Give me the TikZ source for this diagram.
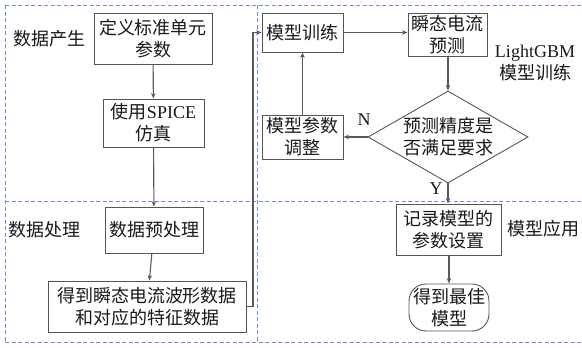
\documentclass[tikz,border=0pt]{standalone}
\usepackage{fontspec}
\setmainfont{Noto Sans CJK SC}
\newfontfamily\lat{Liberation Serif}
\usetikzlibrary{shapes.geometric,arrows.meta}
\definecolor{boxgray}{HTML}{555555}
\definecolor{linegray}{HTML}{5A5A5A}
\definecolor{dashblue}{HTML}{6F8FD2}
\begin{document}
\begin{tikzpicture}[x=1pt,y=-1pt,
  every node/.style={font=\fontsize{18}{22}\selectfont, text=black!90, align=center},
  box/.style={draw=boxgray, line width=0.9pt, inner sep=0pt},
  conn/.style={draw=linegray, line width=1.1pt, -{Stealth[length=5.5pt,width=4.5pt]}},
  region/.style={draw=dashblue, line width=0.9pt, dash pattern=on 4pt off 2.5pt},
  lbl/.style={inner sep=0pt}
]
\useasboundingbox (0,0) rectangle (582,348);
% region dashed lines
\draw[region] (5,5) -- (582,5);
\draw[region] (5,5) -- (5,342);
\draw[region] (5,342) -- (582,342);
\draw[region] (257,5) -- (257,342);
\draw[region] (5,201) -- (582,201);

% left column
\node[box, minimum width=118pt, minimum height=51pt] (def) at (153,38.5) {定义标准单元\\参数};
\node[box, minimum width=101pt, minimum height=48pt] (spice) at (153.5,123) {使用{\lat SPICE}\\仿真};
\node[box, minimum width=98pt, minimum height=46pt] (pre) at (154,230) {数据预处理};
\node[box, minimum width=198pt, minimum height=51pt] (wave) at (147,306.5) {得到瞬态电流波形数据\\和对应的特征数据};

% right column
\node[box, minimum width=81pt, minimum height=39pt] (train) at (302.5,32.5) {模型训练};
\node[box, minimum width=79pt, minimum height=43pt] (pred) at (447.5,34.5) {瞬态电流\\预测};
\node[box, minimum width=81pt, minimum height=44pt] (adj) at (302.5,137) {模型参数\\调整};
\node[diamond, draw=boxgray, line width=0.9pt, minimum width=160pt, minimum height=92pt, inner sep=0pt] (dia) at (448,137) {};
\node[lbl] (diatext) at (dia.center) {预测精度是\\否满足要求};
\node[box, minimum width=105pt, minimum height=51pt] (rec) at (448.5,229.5) {记录模型的\\参数设置};
\node[box, rounded corners=17pt, minimum width=80pt, minimum height=47pt] (best) at (449,307.5) {得到最佳\\模型};

% labels
\node[lbl] (l1) at (49,39) {数据产生};
\node[lbl] (l2) at (45,230) {数据处理};
\node[lbl] (l3) at (535,63) {{\lat LightGBM}\\模型训练};
\node[lbl] (l4) at (543,229) {模型应用};
\node[lbl] (ln) at (364,120) {\lat N};
\node[lbl] (ly) at (436,189) {\lat Y};

% connectors
\coordinate (c1) at (253,306.5);
\coordinate (c2) at (253,32.5);
\draw[conn] (def) -- (spice);
\draw[conn] (spice) -- (pre);
\draw[conn] (pre) -- (wave);
\draw[conn] (wave.east) -- (c1) -- (c2) -- (train.west);
\draw[conn] (train) -- (train -| pred.west);
\draw[conn] (pred.south -| dia.north) -- (dia.north);
\draw[conn] (dia.west) -- (dia.west -| adj.east);
\draw[conn] (adj.north) -- (train.south);
\draw[conn] (dia.south) -- (dia.south |- rec.north);
\draw[conn] (rec.south -| best.north) -- (best.north);
\end{tikzpicture}
\end{document}
